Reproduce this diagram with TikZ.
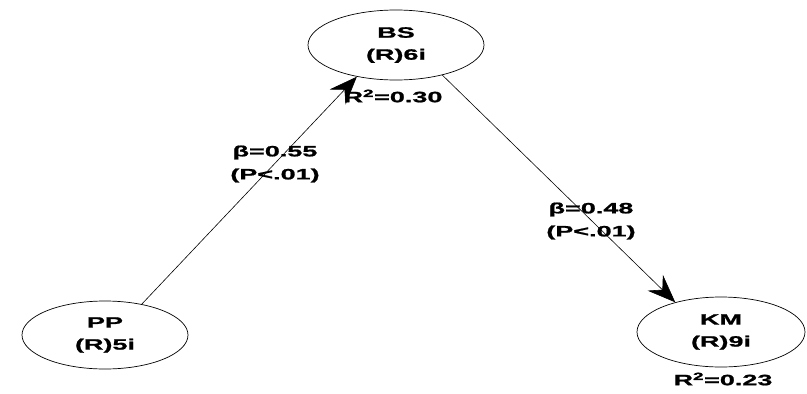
\documentclass[tikz,border=0pt]{standalone}
\usepackage{fontspec}
\setmainfont{Liberation Sans}[FakeStretch=1.8,FakeBold=1.2]
\usetikzlibrary{shapes.geometric,arrows.meta}
\begin{document}
\begin{tikzpicture}[x=1pt,y=-1pt,
  lv/.style={draw, ellipse, line width=0.7pt, inner sep=0pt, align=center,
    font=\fontsize{15}{22}\selectfont\bfseries},
  lbl/.style={align=center, inner sep=0pt, font=\fontsize{15}{23}\selectfont\bfseries},
  conn/.style={line width=0.6pt, -{Stealth[length=28pt,width=22pt,inset=10pt]}}]
\useasboundingbox (0,0) rectangle (807,394);
\node[lv, minimum width=176pt, minimum height=70pt] (bs) at (396,45) {BS\\(R)6i};
\node[lv, minimum width=166pt, minimum height=68pt] (pp) at (105,335) {PP\\(R)5i};
\node[lv, minimum width=168pt, minimum height=70pt] (km) at (721,332) {KM\\(R)9i};
\node[lbl] (r1) at (393,96) {R\textsuperscript{2}=0.30};
\node[lbl] (r2) at (723,379) {R\textsuperscript{2}=0.23};
\node[lbl] (b1) at (275,164) {β=0.55\\(P<.01)};
\node[lbl] (b2) at (591,221) {β=0.48\\(P<.01)};
\draw[conn] (pp.40) -- (bs.219);
\draw[conn] (bs.327) -- (km.147);
\end{tikzpicture}
\end{document}
